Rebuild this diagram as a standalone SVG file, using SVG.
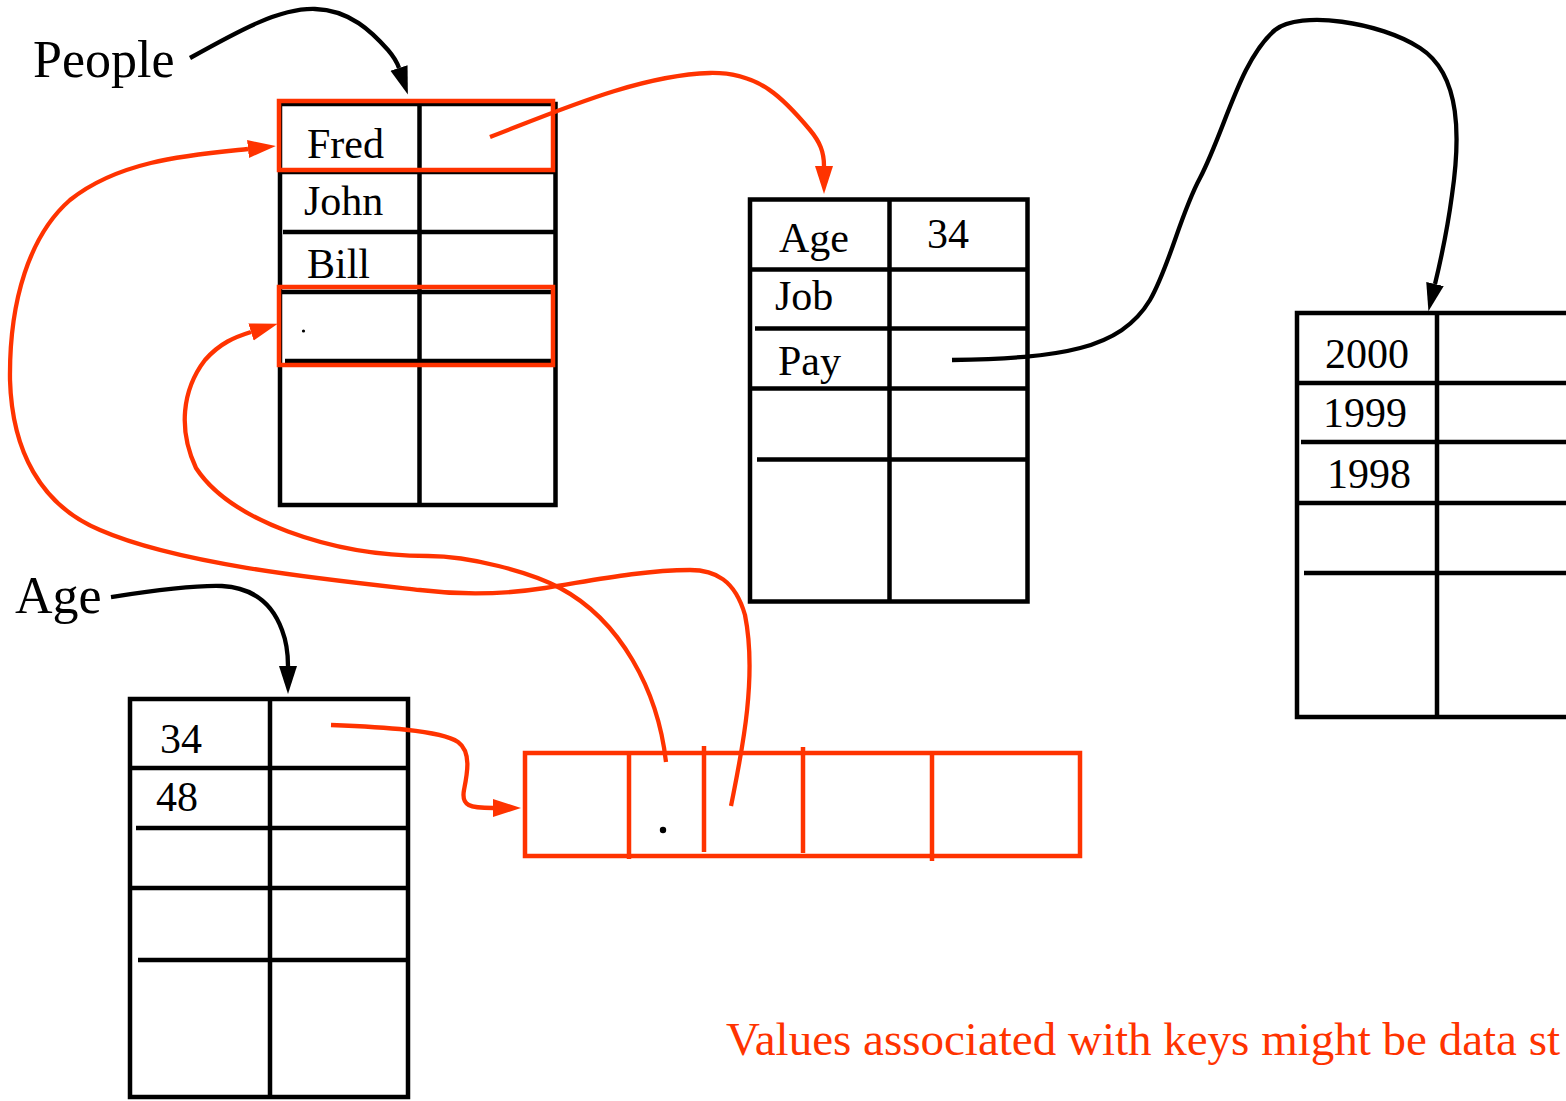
<svg xmlns="http://www.w3.org/2000/svg" width="1566" height="1101" viewBox="0 0 1566 1101">
<style>
  .tb { fill: none; stroke: #000; stroke-width: 4.5; }
  .ln { stroke: #000; stroke-width: 4.5; }
  .hl { fill: none; stroke: #ff3300; stroke-width: 4.5; }
  .rl { stroke: #ff3300; stroke-width: 4.5; }
  .cell { font-family: "Liberation Serif", "Times New Roman", serif; font-size: 42px; fill: #000; }
  .lab { font-family: "Liberation Serif", "Times New Roman", serif; font-size: 52px; fill: #000; }
  .note { font-family: "Liberation Serif", "Times New Roman", serif; font-size: 47px; fill: #ff3300; }
  .cb { fill: none; stroke: #000; stroke-width: 4.3; }
  .cr { fill: none; stroke: #ff3300; stroke-width: 4.3; }
</style>
<defs>
  <marker id="ab" markerUnits="userSpaceOnUse" markerWidth="30" markerHeight="20" refX="0" refY="9" orient="auto">
    <path d="M0,0 L28,9 L0,18 Z" fill="#000"/>
  </marker>
  <marker id="ar" markerUnits="userSpaceOnUse" markerWidth="30" markerHeight="20" refX="0" refY="9" orient="auto">
    <path d="M0,0 L28,9 L0,18 Z" fill="#ff3300"/>
  </marker>
</defs>
<rect width="1566" height="1101" fill="#fff"/>

<g id="label-people"><text class="lab" x="33" y="77">People</text></g>
<g id="label-age"><text class="lab" x="15" y="613">Age</text></g>

<g id="people-table">
  <rect class="tb" x="280" y="104" width="275.5" height="401"/>
  <line class="ln" x1="419.5" y1="104" x2="419.5" y2="505"/>
  <line class="ln" x1="280" y1="172" x2="555.5" y2="172"/>
  <line class="ln" x1="283" y1="232" x2="555.5" y2="232"/>
  <line class="ln" x1="280" y1="292" x2="555.5" y2="292"/>
  <line class="ln" x1="285" y1="361" x2="555.5" y2="361"/>
  <text class="cell" x="307" y="158">Fred</text>
  <text class="cell" x="304" y="215">John</text>
  <text class="cell" x="307" y="278">Bill</text>
  <circle cx="303.5" cy="331" r="1.6" fill="#000"/>
  <rect class="hl" x="279" y="101" width="274" height="69"/>
  <rect class="hl" x="279" y="287" width="274" height="78"/>
</g>

<g id="record-table">
  <rect class="tb" x="750" y="199.5" width="277.5" height="402"/>
  <line class="ln" x1="889.5" y1="199.5" x2="889.5" y2="601.5"/>
  <line class="ln" x1="750" y1="269.5" x2="1027.5" y2="269.5"/>
  <line class="ln" x1="755" y1="328.5" x2="1027.5" y2="328.5"/>
  <line class="ln" x1="750" y1="388.5" x2="1027.5" y2="388.5"/>
  <line class="ln" x1="757" y1="459.5" x2="1027.5" y2="459.5"/>
  <text class="cell" x="779" y="252">Age</text>
  <text class="cell" x="927" y="248">34</text>
  <text class="cell" x="775" y="310">Job</text>
  <text class="cell" x="778" y="375">Pay</text>
</g>

<g id="pay-table">
  <rect class="tb" x="1297" y="313" width="320" height="404"/>
  <line class="ln" x1="1437" y1="313" x2="1437" y2="717"/>
  <line class="ln" x1="1297" y1="383" x2="1617" y2="383"/>
  <line class="ln" x1="1301" y1="442" x2="1617" y2="442"/>
  <line class="ln" x1="1297" y1="503" x2="1617" y2="503"/>
  <line class="ln" x1="1304" y1="573" x2="1617" y2="573"/>
  <text class="cell" x="1325" y="368">2000</text>
  <text class="cell" x="1323" y="427">1999</text>
  <text class="cell" x="1327" y="488">1998</text>
</g>

<g id="age-table">
  <rect class="tb" x="130" y="699" width="278" height="398"/>
  <line class="ln" x1="270" y1="699" x2="270" y2="1097"/>
  <line class="ln" x1="130" y1="768" x2="408" y2="768"/>
  <line class="ln" x1="136" y1="828" x2="408" y2="828"/>
  <line class="ln" x1="130" y1="888" x2="408" y2="888"/>
  <line class="ln" x1="138" y1="960" x2="408" y2="960"/>
  <text class="cell" x="160" y="753">34</text>
  <text class="cell" x="156" y="811">48</text>
</g>

<g id="array">
  <rect class="hl" x="525" y="753" width="555" height="103"/>
  <line class="rl" x1="629" y1="753" x2="629" y2="859"/>
  <line class="rl" x1="704" y1="746" x2="704" y2="852"/>
  <line class="rl" x1="803" y1="747" x2="803" y2="853"/>
  <line class="rl" x1="932" y1="753" x2="932" y2="861"/>
  <circle cx="663" cy="830" r="3.2" fill="#000"/>
</g>

<g id="note"><text class="note" x="726" y="1055">Values associated with keys might be data st</text></g>

<g id="connectors">
  <path class="cb" marker-end="url(#ab)" d="M190,58 C240,30 280,8 315,9 C350,10 372,32 388,50 C394,57 397,62 399,68"/>
  <path class="cb" marker-end="url(#ab)" d="M111,597 C150,591 195,585 222,586 C258,588 274,608 282,630 C287,643 288,655 288,666"/>
  <path class="cb" marker-end="url(#ab)" d="M952,360 C1060,358 1120,350 1150,300 C1170,265 1180,215 1200,178 C1225,130 1240,60 1275,30 C1300,10 1380,22 1420,48 C1462,75 1460,140 1452,195 C1448,225 1442,255 1435,284"/>
  <path class="cr" marker-end="url(#ar)" d="M490,137 C560,110 640,75 710,73 C760,72 785,100 810,130 C820,142 824,152 824,166"/>
  <path class="cr" marker-end="url(#ar)" d="M331,725 C380,727 440,730 458,742 C472,752 467,775 464,790 C461,806 470,808 493,808"/>
  <path class="cr" marker-end="url(#ar)" d="M666,762 C658,690 620,620 560,588 C530,572 470,556 428,556 C330,556 230,520 196,468 C178,430 182,390 205,360 C220,343 235,337 251,332"/>
  <path class="cr" marker-end="url(#ar)" d="M731,806 C740,760 758,680 745,615 C735,580 715,570 690,570 C640,570 585,582 545,588 C500,595 460,595 420,590 C330,580 180,565 100,530 C40,505 12,450 10,380 C9,300 30,235 70,200 C120,160 190,155 248,149"/>
</g>
</svg>
